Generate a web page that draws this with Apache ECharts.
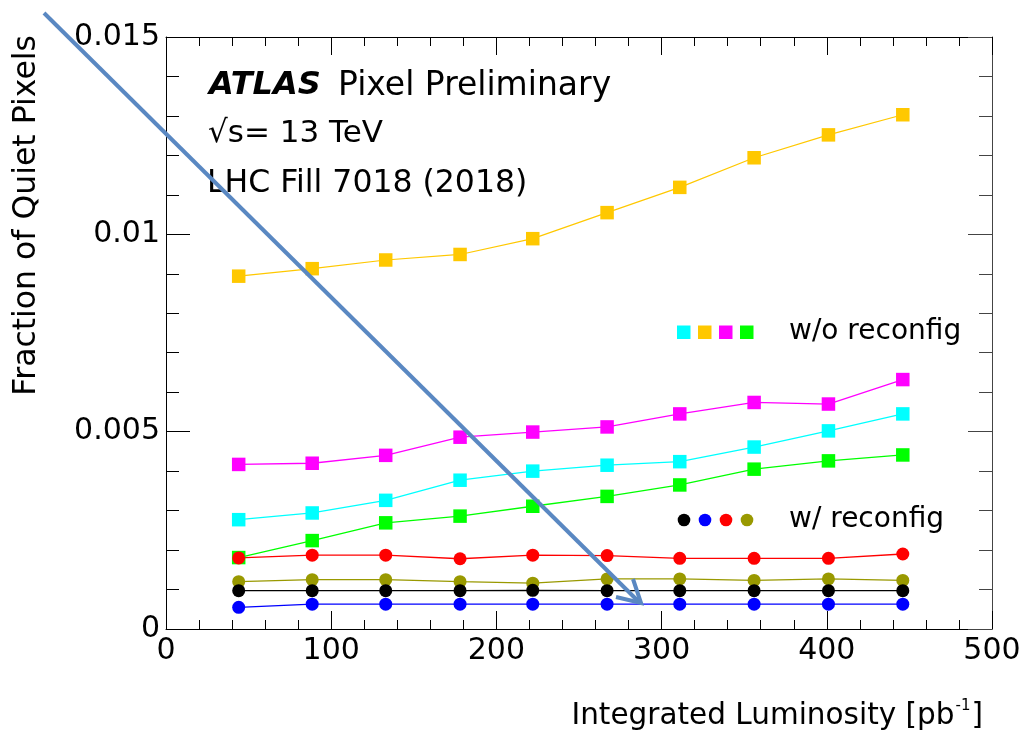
<!DOCTYPE html>
<html>
<head>
<meta charset="utf-8">
<script src="https://cdn.jsdelivr.net/npm/echarts@6/dist/echarts.min.js"></script>
<style>
html,body{margin:0;padding:0;background:#fff;}
#chart{width:1027px;height:731px;}
</style>
</head>
<body>
<div id="chart"></div>
<script>
// ---- data ----
const lumi = [44, 88.5, 133, 178, 222, 267, 311, 356, 401, 446];
const woOrange  = [0.00894, 0.00913, 0.00935, 0.00949, 0.00989, 0.01055, 0.01119, 0.01194, 0.01252, 0.01303];
const woMagenta = [0.00417, 0.00420, 0.00440, 0.00486, 0.00499, 0.00512, 0.00545, 0.00574, 0.00570, 0.00632];
const woCyan    = [0.00277, 0.00294, 0.00326, 0.00377, 0.00400, 0.00415, 0.00424, 0.00461, 0.00502, 0.00545];
const woGreen   = [0.00181, 0.00224, 0.00269, 0.00286, 0.00311, 0.00336, 0.00365, 0.00405, 0.00426, 0.00441];
const wRed      = [0.00180, 0.00187, 0.00187, 0.00178, 0.00187, 0.00186, 0.00179, 0.00179, 0.00179, 0.00190];
const wOlive    = [0.00120, 0.00125, 0.00125, 0.00120, 0.00116, 0.00127, 0.00127, 0.00123, 0.00127, 0.00123];
const wBlack    = [0.00097, 0.00097, 0.00097, 0.00097, 0.00098, 0.00097, 0.00097, 0.00097, 0.00097, 0.00097];
const wBlue     = [0.00055, 0.00063, 0.00063, 0.00063, 0.00063, 0.00063, 0.00063, 0.00063, 0.00063, 0.00063];

const xTitle = 'Integrated Luminosity [pb';
const yTitle = 'Fraction of Quiet Pixels';
const textLines = ['ATLAS', 'Pixel Preliminary', '\u221As= 13 TeV', 'LHC Fill 7018 (2018)'];
const legendWo = 'w/o reconfig';
const legendW = 'w/ reconfig';

const FONT = 'DejaVu Sans';

function pairs(ys){ return lumi.map((x,i)=>[x, ys[i]]); }
function mk(name, ys, color, symbol, size, lw){
  return {
    name, type:'line', data: pairs(ys), symbol, symbolSize: size,
    itemStyle:{color}, lineStyle:{color, width: lw || 1.3},
    emphasis:{disabled:true}, animation:false, z: 3
  };
}

const series = [
  mk('orange', woOrange, '#ffc800', 'rect', 13.5, 1.2),
  mk('magenta', woMagenta, '#ff00ff', 'rect', 13.5),
  mk('cyan', woCyan, '#00ffff', 'rect', 13.5),
  mk('green', woGreen, '#00ff00', 'rect', 13.5),
  mk('red', wRed, '#ff0000', 'circle', 13),
  mk('olive', wOlive, '#999900', 'circle', 13),
  mk('black', wBlack, '#000000', 'circle', 13),
  mk('blue', wBlue, '#0000ff', 'circle', 13)
];

const axisLine = {show:true, onZero:false, lineStyle:{color:'#000', width:1}};

const option = {
  backgroundColor:'#fff',
  animation:false,
  grid:{left:166, right:35, top:37, bottom:102, containLabel:false},
  xAxis:[{
    type:'value', min:0, max:500, interval:100,
    axisLine, splitLine:{show:false},
    axisTick:{show:true, inside:true, length:18, lineStyle:{color:'#000'}},
    minorTick:{show:true, splitNumber:5, length:9, lineStyle:{color:'#000'}},
    axisLabel:{fontFamily:FONT, fontSize:30, color:'#000', margin:7}
  },{
    type:'value', position:'top', min:0, max:500, interval:100,
    axisLine, splitLine:{show:false},
    axisTick:{show:true, inside:true, length:18, lineStyle:{color:'#000'}},
    minorTick:{show:true, splitNumber:5, length:9, lineStyle:{color:'#000'}},
    axisLabel:{show:false}
  }],
  yAxis:[{
    type:'value', min:0, max:0.015, interval:0.005,
    axisLine, splitLine:{show:false},
    axisTick:{show:true, inside:true, length:24, lineStyle:{color:'#000'}},
    minorTick:{show:true, splitNumber:5, length:13, lineStyle:{color:'#000'}},
    axisLabel:{fontFamily:FONT, fontSize:30, color:'#000', margin:6}
  },{
    type:'value', position:'right', min:0, max:0.015, interval:0.005,
    axisLine:{show:true, onZero:false, lineStyle:{color:'#444', width:1}}, splitLine:{show:false},
    axisTick:{show:true, inside:true, length:24, lineStyle:{color:'#444'}},
    minorTick:{show:true, splitNumber:5, length:13, lineStyle:{color:'#444'}},
    axisLabel:{show:false}
  }],
  series,
  graphic:[
    // axis titles
    {type:'text', x:983, y:716, z:10, style:{
      text:'{n|' + xTitle + '}{s|-1}{n|]}', align:'right', verticalAlign:'middle',
      rich:{ n:{fontFamily:FONT, fontSize:29.5, fill:'#000', lineHeight:34},
             s:{fontFamily:FONT, fontSize:15, fill:'#000', verticalAlign:'top', lineHeight:34, padding:[0,1,12,1]} }
    }},
    {type:'text', x:27, y:35, rotation:Math.PI/2, z:10, style:{
      text:yTitle, fontFamily:FONT, fontSize:31.5, fill:'#000', align:'right', verticalAlign:'middle'
    }},
    // ATLAS labels
    {type:'text', x:209, y:86, z:10, style:{text:textLines[0], fontFamily:FONT, fontSize:32, fontWeight:'bold', fontStyle:'italic', fill:'#000', align:'left', verticalAlign:'middle'}},
    {type:'text', x:338, y:86, z:10, style:{text:textLines[1], fontFamily:FONT, fontSize:33, fill:'#000', align:'left', verticalAlign:'middle'}},
    {type:'text', x:208, y:134, z:10, style:{text:textLines[2], fontFamily:FONT, fontSize:31, fill:'#000', align:'left', verticalAlign:'middle'}},
    {type:'text', x:207, y:184, z:10, style:{text:textLines[3], fontFamily:FONT, fontSize:31.5, fill:'#000', align:'left', verticalAlign:'middle'}},
    // legend: w/o reconfig
    {type:'rect', shape:{x:677, y:325.5, width:13.5, height:13.5}, style:{fill:'#00ffff'}, z:10},
    {type:'rect', shape:{x:698, y:325.5, width:13.5, height:13.5}, style:{fill:'#ffc800'}, z:10},
    {type:'rect', shape:{x:719, y:325.5, width:13.5, height:13.5}, style:{fill:'#ff00ff'}, z:10},
    {type:'rect', shape:{x:740, y:325.5, width:13.5, height:13.5}, style:{fill:'#00ff00'}, z:10},
    {type:'text', x:789, y:332, z:10, style:{text:legendWo, fontFamily:FONT, fontSize:28, fill:'#000', align:'left', verticalAlign:'middle'}},
    // legend: w/ reconfig
    {type:'circle', shape:{cx:684, cy:520, r:6.3}, style:{fill:'#000000'}, z:10},
    {type:'circle', shape:{cx:705, cy:520, r:6.3}, style:{fill:'#0000ff'}, z:10},
    {type:'circle', shape:{cx:726, cy:520, r:6.3}, style:{fill:'#ff0000'}, z:10},
    {type:'circle', shape:{cx:747, cy:520, r:6.3}, style:{fill:'#999900'}, z:10},
    {type:'text', x:789, y:520, z:10, style:{text:legendW, fontFamily:FONT, fontSize:28, fill:'#000', align:'left', verticalAlign:'middle'}},
    // annotation arrow
    {type:'line', z:20, shape:{x1:44, y1:13, x2:639, y2:602}, style:{stroke:'#5a88c2', lineWidth:4, lineCap:'butt'}},
    {type:'polyline', z:20, shape:{points:[[633,579],[641,603],[616,597]]}, style:{stroke:'#5a88c2', lineWidth:4, fill:null, lineJoin:'miter'}}
  ]
};

const chart = echarts.init(document.getElementById('chart'), null, {renderer:'canvas'});
chart.setOption(option);
</script>
</body>
</html>
